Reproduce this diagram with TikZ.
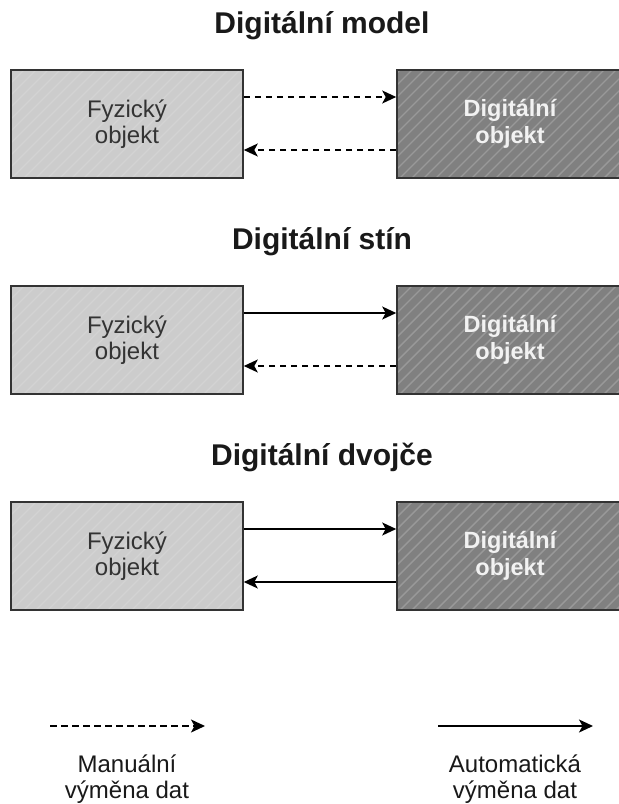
\documentclass[tikz,border=0pt]{standalone}
\usepackage{fontspec}
\setmainfont{Liberation Sans}
\usetikzlibrary{arrows.meta}
\definecolor{physfill}{HTML}{CCCCCC}
\definecolor{physhatch}{HTML}{D3D3D3}
\definecolor{digifill}{HTML}{808080}
\definecolor{digihatch}{HTML}{999999}
\definecolor{edgecol}{HTML}{333333}
\begin{document}
\begin{tikzpicture}[x=1pt,y=-1pt,
  title/.style={font=\fontsize{30}{33}\selectfont\bfseries, text=black!90, anchor=base, inner sep=0},
  boxbase/.style={draw=edgecol, line width=1.6pt, minimum height=108pt, inner sep=0, align=center},
  phys/.style={boxbase, minimum width=232pt, font=\fontsize{24}{26.5}\selectfont, text=edgecol},
  digi/.style={boxbase, minimum width=226pt, font=\fontsize{23.5}{26.5}\selectfont\bfseries, text=white!95!black},
  legendtext/.style={font=\fontsize{24}{25.5}\selectfont, text=black!90, align=center, inner sep=0},
  link/.style={line width=1.6pt, draw=black, -{Stealth[length=14pt,width=13pt,inset=3.5pt]}},
  manual/.style={link, dash pattern=on 6.5pt off 4.5pt},
]
\useasboundingbox (0,0) rectangle (619,804);
\fill[white] (0,0) rectangle (619,804);

% titles
\node[title] (t1) at (322,33) {Digitální model};
\node[title] (t2) at (322,249) {Digitální stín};
\node[title] (t3) at (322,465) {Digitální dvojče};

% boxes with hatching
\foreach \i/\cy in {1/124,2/340,3/556}{
  \fill[physfill] (11,\cy-54) rectangle (243,\cy+54);
  \begin{scope}
    \clip (11,\cy-54) rectangle (243,\cy+54);
    \foreach \x in {-120,-108,...,250}{
      \draw[physhatch, line width=1.2pt] (\x,\cy+54) -- (\x+108,\cy-54);
    }
  \end{scope}
  \fill[digifill] (397,\cy-54) rectangle (623,\cy+54);
  \begin{scope}
    \clip (397,\cy-54) rectangle (623,\cy+54);
    \foreach \x in {280,292,...,630}{
      \draw[digihatch, line width=1.4pt] (\x,\cy+54) -- (\x+108,\cy-54);
    }
  \end{scope}
  \node[phys] (f\i) at (127,\cy) {Fyzický\\objekt};
  \node[digi] (d\i) at (510,\cy) {Digitální\\objekt};
}

% connectors
\draw[manual] ([yshift=27pt]f1.east) -- ([yshift=27pt]d1.west);
\draw[manual] ([yshift=-26pt]d1.west) -- ([yshift=-26pt]f1.east);
\draw[link] ([yshift=27pt]f2.east) -- ([yshift=27pt]d2.west);
\draw[manual] ([yshift=-26pt]d2.west) -- ([yshift=-26pt]f2.east);
\draw[link] ([yshift=27pt]f3.east) -- ([yshift=27pt]d3.west);
\draw[link] ([yshift=-26pt]d3.west) -- ([yshift=-26pt]f3.east);

% legend
\coordinate (lm1) at (50,726);
\coordinate (lm2) at (205,726);
\coordinate (la1) at (438,726);
\coordinate (la2) at (593,726);
\draw[manual] (lm1) -- (lm2);
\draw[link] (la1) -- (la2);
\node[legendtext] (lmt) at (127,779) {Manuální\\výměna dat};
\node[legendtext] (lat) at (515,779) {Automatická\\výměna dat};
\end{tikzpicture}
\end{document}
